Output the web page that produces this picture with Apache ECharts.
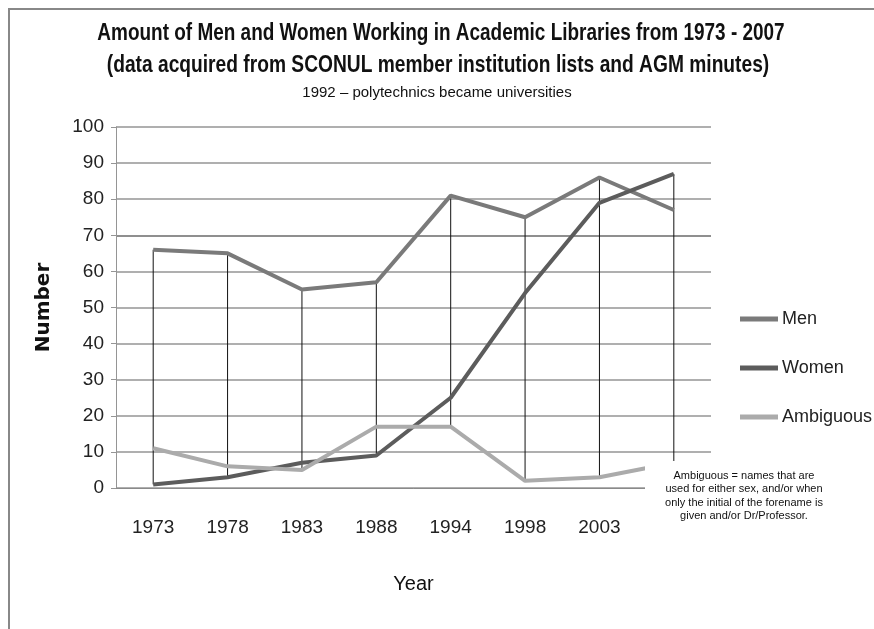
<!DOCTYPE html>
<html>
<head>
<meta charset="utf-8">
<script src="https://cdn.jsdelivr.net/npm/echarts@6/dist/echarts.min.js"></script>
<style>
  html, body { margin: 0; padding: 0; background: #fff; }
  #main { width: 874px; height: 629px; }
</style>
</head>
<body>
<div id="main"></div>
<script>
// data
var years = ['1973', '1978', '1983', '1988', '1994', '1998', '2003', '2007'];
var men = [66, 65, 55, 57, 81, 75, 86, 77];
var women = [1, 3, 7, 9, 25, 54, 79, 87];
var ambiguous = [11, 6, 5, 17, 17, 2, 3, 7];

var sans = '"Liberation Sans", Arial, sans-serif';

// high-low lines: from the highest to the lowest value of each year
var hiLo = years.map(function (y, i) {
  var v = [men[i], women[i], ambiguous[i]];
  return [i, Math.min.apply(null, v), Math.max.apply(null, v)];
});

// the 70 line is a bit darker in the original
var gridColors = ['#959595', '#959595', '#959595', '#959595', '#959595', '#959595', '#959595', '#6a6a6a', '#959595', '#959595', '#959595'];

var myChart = echarts.init(document.getElementById('main'));
var option = {
  backgroundColor: '#fff',
  animation: false,
  legend: {
    orient: 'vertical',
    left: 740,
    top: 310,
    padding: 0,
    itemGap: 31,
    itemWidth: 38,
    itemHeight: 5,
    icon: 'rect',
    data: ['Men', 'Women', 'Ambiguous'],
    textStyle: { fontFamily: sans, fontSize: 18, color: '#222', padding: [0, 0, 0, -1] }
  },
  grid: { left: 116, right: 163, top: 127, bottom: 141 },
  xAxis: {
    type: 'category',
    data: years,
    boundaryGap: true,
    axisLine: { lineStyle: { color: '#8a8a8a', width: 1 } },
    axisTick: { show: false },
    axisLabel: { margin: 30, fontFamily: sans, fontSize: 19, color: '#222' },
    name: 'Year',
    nameLocation: 'middle',
    nameGap: 86,
    nameTextStyle: { fontFamily: sans, fontSize: 20, color: '#111' }
  },
  yAxis: {
    type: 'value',
    min: 0, max: 100, interval: 10,
    axisLine: { show: true, lineStyle: { color: '#959595' } },
    axisTick: { show: true, length: 5, lineStyle: { color: '#959595' } },
    splitLine: { lineStyle: { color: gridColors, width: 1.5 } },
    axisLabel: { margin: 12, fontFamily: sans, fontSize: 19, color: '#222' },
    name: 'Number',
    nameLocation: 'middle',
    nameRotate: 90,
    nameGap: 62,
    nameTextStyle: { fontFamily: '"DejaVu Sans", Verdana, sans-serif', fontSize: 20, fontWeight: 'bold', color: '#111' }
  },
  series: [
    {
      name: 'hilo',
      type: 'custom',
      z: 1,
      silent: true,
      data: hiLo,
      renderItem: function (params, api) {
        var top = api.coord([api.value(0), api.value(2)]);
        var bot = api.coord([api.value(0), api.value(1)]);
        return {
          type: 'line',
          shape: { x1: top[0], y1: top[1], x2: bot[0], y2: bot[1] },
          style: { stroke: '#111', lineWidth: 1 }
        };
      }
    },
    {
      name: 'Men', type: 'line', data: men, symbol: 'none', z: 3,
      lineStyle: { color: '#7a7a7a', width: 4 }, itemStyle: { color: '#7a7a7a' }
    },
    {
      name: 'Women', type: 'line', data: women, symbol: 'none', z: 3,
      lineStyle: { color: '#5c5c5c', width: 4 }, itemStyle: { color: '#5c5c5c' }
    },
    {
      name: 'Ambiguous', type: 'line', data: ambiguous, symbol: 'none', z: 3,
      lineStyle: { color: '#ababab', width: 4 }, itemStyle: { color: '#ababab' }
    }
  ],
  graphic: [
    // titles, squeezed to look like the narrow face of the original
    {
      type: 'text', z: 100, x: 441, y: 33, scaleX: 0.79,
      style: {
        text: 'Amount of Men and Women Working in Academic Libraries from 1973 - 2007',
        x: 0, y: 0, textAlign: 'center', textVerticalAlign: 'middle',
        font: 'bold 24px ' + sans, fill: '#111'
      }
    },
    {
      type: 'text', z: 100, x: 438, y: 65, scaleX: 0.8,
      style: {
        text: '(data acquired from SCONUL member institution lists and AGM minutes)',
        x: 0, y: 0, textAlign: 'center', textVerticalAlign: 'middle',
        font: 'bold 24px ' + sans, fill: '#111'
      }
    },
    {
      type: 'text', z: 100, x: 437, y: 93,
      style: {
        text: '1992 \u2013 polytechnics became universities',
        x: 0, y: 0, textAlign: 'center', textVerticalAlign: 'middle',
        font: '15px ' + sans, fill: '#111'
      }
    },
    {
      type: 'polyline', z: 100,
      shape: { points: [[9, 629], [9, 9], [874, 9]] },
      style: { stroke: '#888', lineWidth: 2, fill: null }
    },
    {
      type: 'rect', z: 100,
      shape: { x: 645, y: 461, width: 229, height: 80 },
      style: { fill: '#fff' }
    },
    {
      type: 'text', z: 101, x: 744, y: 469,
      style: {
        text: 'Ambiguous = names that are\nused for either sex, and/or when\nonly the initial of the forename is\ngiven and/or Dr/Professor.',
        x: 0, y: 0, textAlign: 'center',
        font: '11px ' + sans,
        lineHeight: 13.5,
        fill: '#111'
      }
    }
  ]
};
myChart.setOption(option);
</script>
</body>
</html>
